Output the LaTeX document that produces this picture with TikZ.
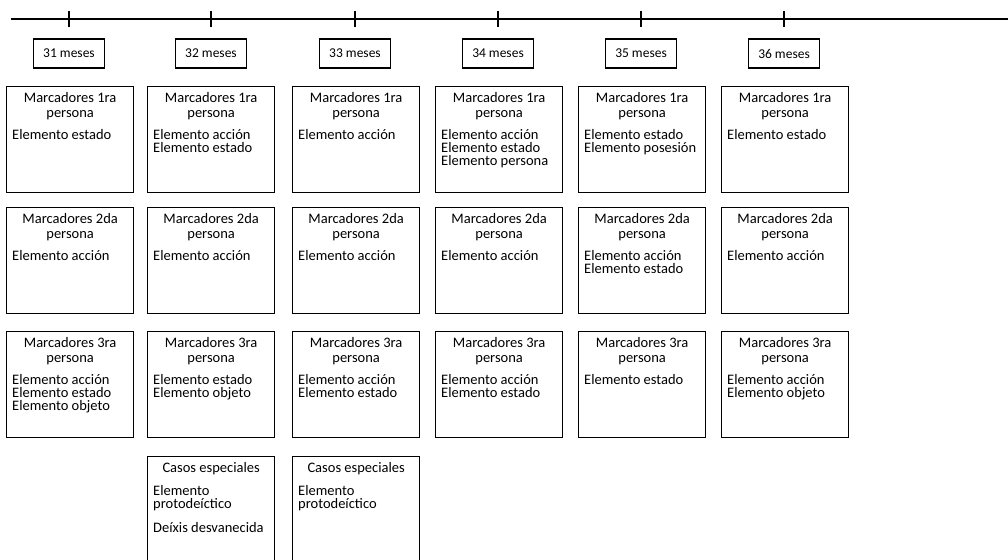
\documentclass[tikz,border=0pt]{standalone}
\usepackage{fontspec}
\setmainfont{Carlito}
\usetikzlibrary{calc}

% first-line strut so that every text block starts at a fixed height
\newcommand\fl{\rule{0pt}{11pt}}
% tight line spacing, lines may nearly touch
\newcommand\tight[1]{\fontsize{14.5}{#1}\selectfont\lineskiplimit=-20pt\lineskip=0pt}

% one panel: box, centred heading, left-aligned list
% #1 name, #2 left, #3 top, #4 heading, #5 list
\newcommand\panel[5]{%
  \node[panelbox] (#1) at (#2,#3) {};
  \node[heading] (#1h) at ($(#1.north)+(0,5)$) {\fl #4};
  \node[items] (#1l) at ($(#1.north west)+(6,42)$) {\fl #5};
}

\begin{document}
\begin{tikzpicture}[x=1pt,y=-1pt,
  panelbox/.style={draw, line width=1.3pt, inner sep=0pt, anchor=north west,
    minimum width=127pt, minimum height=106pt},
  heading/.style={inner sep=0pt, anchor=north, align=center,
    font=\tight{15}},
  items/.style={inner sep=0pt, anchor=north west, align=left,
    font=\tight{13.3}},
  month/.style={draw, line width=1.3pt, inner sep=0pt, minimum width=71pt,
    minimum height=29pt, font=\fontsize{13.5}{15}\selectfont},
  tick/.style={line width=1.3pt}]

\useasboundingbox (0,0) rectangle (1008,559);
\clip (0,0) rectangle (1008,559);

% time line with its ticks
\coordinate (ls) at (11,19);
\coordinate (le) at (1008,19);
\draw[line width=1.5pt] (ls) -- (le);
\foreach \n/\x in {31/69,32/211,33/355,34/498,35/641,36/784}{
  \coordinate (t\n) at (\x,19);
  \draw[tick] ($(t\n)+(0,-8)$) -- ($(t\n)+(0,8)$);
  \node[month] (m\n) at (\x,53.5) {\n{} meses};
}

% first person markers
\panel{a1}{6}{86}{Marcadores 1ra\\persona}{Elemento estado}
\panel{a2}{147}{86}{Marcadores 1ra\\persona}{Elemento acción\\Elemento estado}
\panel{a3}{292}{86}{Marcadores 1ra\\persona}{Elemento acción}
\panel{a4}{435}{86}{Marcadores 1ra\\persona}{Elemento acción\\Elemento estado\\Elemento persona}
\panel{a5}{578}{86}{Marcadores 1ra\\persona}{Elemento estado\\Elemento posesión}
\panel{a6}{721}{86}{Marcadores 1ra\\persona}{Elemento estado}

% second person markers
\panel{b1}{6}{207}{Marcadores 2da\\persona}{Elemento acción}
\panel{b2}{147}{207}{Marcadores 2da\\persona}{Elemento acción}
\panel{b3}{292}{207}{Marcadores 2da\\persona}{Elemento acción}
\panel{b4}{435}{207}{Marcadores 2da\\persona}{Elemento acción}
\panel{b5}{578}{207}{Marcadores 2da\\persona}{Elemento acción\\Elemento estado}
\panel{b6}{721}{207}{Marcadores 2da\\persona}{Elemento acción}

% third person markers
\panel{c1}{6}{331}{Marcadores 3ra\\persona}{Elemento acción\\Elemento estado\\Elemento objeto}
\panel{c2}{147}{331}{Marcadores 3ra\\persona}{Elemento estado\\Elemento objeto}
\panel{c3}{292}{331}{Marcadores 3ra\\persona}{Elemento acción\\Elemento estado}
\panel{c4}{435}{331}{Marcadores 3ra\\persona}{Elemento acción\\Elemento estado}
\panel{c5}{578}{331}{Marcadores 3ra\\persona}{Elemento estado}
\panel{c6}{721}{331}{Marcadores 3ra\\persona}{Elemento acción\\Elemento objeto}

% special cases
\node[panelbox] (d2) at (147,456) {};
\node[heading] (d2h) at ($(d2.north)+(0,5.7)$) {\fl Casos especiales};
\node[items] (d2l) at ($(d2.north west)+(6,28)$)
  {\fl Elemento\\protodeíctico\\[10.4pt]Deíxis desvanecida};
\node[panelbox] (d3) at (292,456) {};
\node[heading] (d3h) at ($(d3.north)+(0,5.7)$) {\fl Casos especiales};
\node[items] (d3l) at ($(d3.north west)+(6,28)$)
  {\fl Elemento\\protodeíctico};
\end{tikzpicture}
\end{document}
